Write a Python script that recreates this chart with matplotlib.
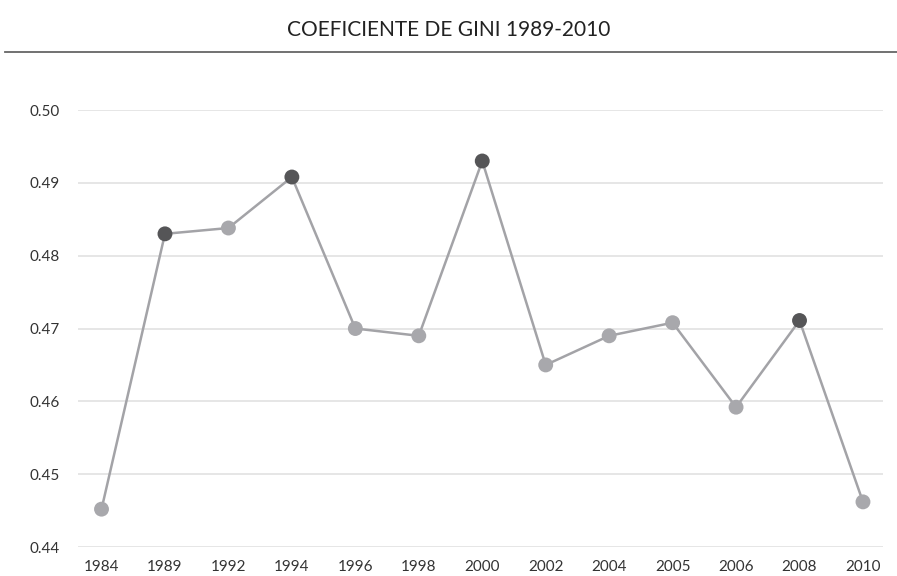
import numpy as np
import matplotlib
matplotlib.use('Agg')
import matplotlib.pyplot as plt
from matplotlib.lines import Line2D

plt.rcParams['font.family'] = ['Lato', 'DejaVu Sans']

years = ['1984', '1989', '1992', '1994', '1996', '1998', '2000',
         '2002', '2004', '2005', '2006', '2008', '2010']
gini = [0.4452, 0.483, 0.4838, 0.4908, 0.470, 0.469, 0.493,
        0.465, 0.469, 0.4708, 0.4592, 0.4711, 0.4462]
highlight = ['1989', '1994', '2000', '2008']

fig = plt.figure(figsize=(8.97, 5.76), dpi=100)
ax = fig.add_axes([0.087, 0.0503, 0.897, 0.7587])

x = np.arange(len(years))
ax.plot(x, gini, color='#a3a3a7', lw=1.8, zorder=2, clip_on=False)
colors = ['#555557' if y in highlight else '#a8a8ac' for y in years]
ax.scatter(x, gini, s=115, c=colors, zorder=3, clip_on=False, linewidths=0)

ax.set_ylim(0.44, 0.50)
ax.set_xlim(-0.37, 12.31)
ax.set_yticks([0.44, 0.45, 0.46, 0.47, 0.48, 0.49, 0.50])
ax.set_yticklabels(['%.2f' % v for v in ax.get_yticks()])
ax.set_xticks(x)
ax.set_xticklabels(years)
ax.grid(axis='y', color='#e2e2e2', lw=1.2, zorder=0)
ax.set_axisbelow(True)
for s in ax.spines.values():
    s.set_visible(False)
ax.tick_params(axis='both', length=0, labelsize=11, labelcolor='#333333')
ax.tick_params(axis='x', pad=9)
ax.tick_params(axis='y', pad=13)

fig.text(0.5, 1 - 30 / 576, 'COEFICIENTE DE GINI 1989-2010', ha='center', va='center',
         fontsize=15, color='#222222')
fig.add_artist(Line2D([5 / 897, 1.0], [1 - 52 / 576, 1 - 52 / 576], color='#666666', lw=1.3))

plt.savefig('out.png', dpi=100)
